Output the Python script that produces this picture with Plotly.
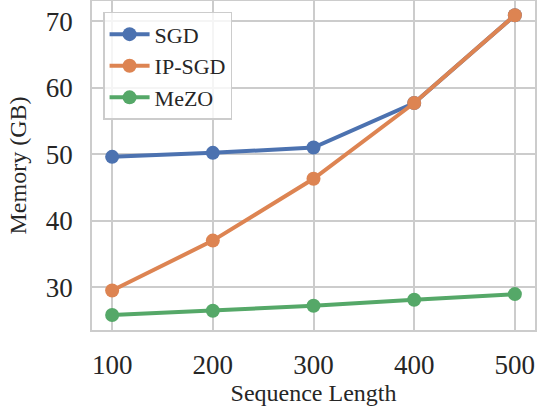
import plotly.graph_objects as go

seq_len = [100, 200, 300, 400, 500]
sgd = [49.6, 50.2, 51.0, 57.7, 70.9]
ip_sgd = [29.5, 37.0, 46.3, 57.7, 70.9]
mezo = [25.8, 26.45, 27.2, 28.1, 28.95]

series = [("SGD", sgd, "#4C72B0"), ("IP-SGD", ip_sgd, "#DD8452"), ("MeZO", mezo, "#55A868")]

fig = go.Figure()
for name, vals, col in series:
    fig.add_trace(go.Scatter(x=seq_len, y=vals, name=name, mode="lines+markers",
                             line=dict(color=col, width=4),
                             marker=dict(color=col, size=14)))

font = "Liberation Serif"
fig.update_layout(
    width=541, height=409,
    margin=dict(l=92, r=6, t=1, b=79),
    plot_bgcolor="white", paper_bgcolor="white",
    font=dict(family=font, color="#262626"),
    showlegend=True,
    legend=dict(x=0.025, y=0.967, xanchor="left", yanchor="top",
                bgcolor="rgba(255,255,255,0.8)", bordercolor="#cccccc", borderwidth=1.5,
                font=dict(size=22, family=font), itemwidth=40, tracegroupgap=0),
    xaxis=dict(range=[80, 520], tickvals=seq_len, showgrid=True, gridcolor="#cccccc", gridwidth=1.5,
               showline=True, linecolor="#cccccc", linewidth=1.5, mirror=True, zeroline=False,
               tickfont=dict(size=27), ticks="", ticklabelstandoff=10, automargin=False,
               title=dict(text="Sequence Length", font=dict(size=24), standoff=3)),
    yaxis=dict(range=[23.55, 73.05], tickvals=[30, 40, 50, 60, 70], showgrid=True, gridcolor="#cccccc", gridwidth=1.5,
               showline=True, linecolor="#cccccc", linewidth=1.5, mirror=True, zeroline=False,
               tickfont=dict(size=27), ticks="", ticklabelstandoff=12, automargin=False,
               title=dict(text="Memory (GB)", font=dict(size=24), standoff=12)),
)
fig.write_html("out.html", config={"displayModeBar": False},
               post_script="document.body.style.margin='0';document.body.style.overflow='hidden';")
